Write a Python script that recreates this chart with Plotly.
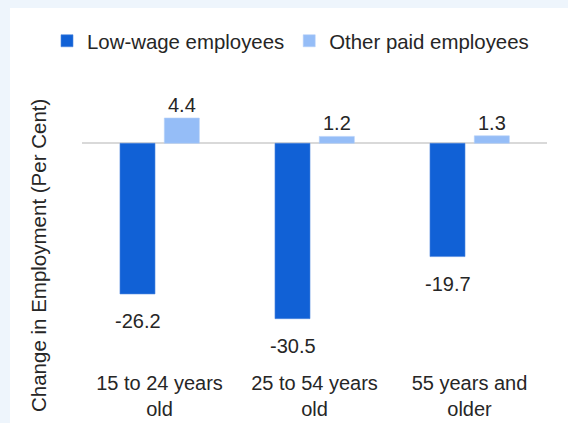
import plotly.graph_objects as go

categories = ["15 to 24 years<br>old", "25 to 54 years<br>old", "55 years and<br>older"]
series_names = ["Low-wage employees", "Other paid employees"]
low_wage = [-26.2, -30.5, -19.7]
other_paid = [4.4, 1.2, 1.3]

DARK = "#1161D6"
LIGHT = "#95BDF7"
TEXT = "#262626"
FONT = "Liberation Sans, Arial, sans-serif"

W, H = 568, 423
ml, mr, mt, mb = 82, 21, 100, 57
pw = W - ml - mr
ph = H - mt - mb

fig = go.Figure()
bar_w = 0.226
fig.add_trace(go.Bar(x=categories, y=low_wage, name=series_names[0],
                     marker=dict(color=DARK, line=dict(color="#4F86DE", width=0.6)),
                     width=bar_w, offset=-0.255))
fig.add_trace(go.Bar(x=categories, y=other_paid, name=series_names[1],
                     marker=dict(color=LIGHT, line=dict(color="#B5D0F9", width=0.6)),
                     width=bar_w, offset=0.031))

annotations = []
for series, shift in ((low_wage, -22), (other_paid, 22)):
    for c, v in zip(categories, series):
        annotations.append(dict(x=c, y=v, xref="x", yref="y", text=f"{v:.1f}",
                                showarrow=False, xshift=shift,
                                yshift=13 if v >= 0 else -27,
                                yanchor="middle", xanchor="center",
                                font=dict(size=20, color=TEXT, family=FONT)))
annotations.append(dict(x=(38 - ml) / pw, y=(H - mb - 256) / ph, xref="paper", yref="paper",
                        text="Change in Employment (Per Cent)", textangle=-90,
                        showarrow=False, xanchor="center", yanchor="middle",
                        font=dict(size=20.5, color=TEXT, family=FONT)))

fig.update_layout(
    width=W, height=H,
    margin=dict(l=ml, r=mr, t=mt, b=mb, pad=0, autoexpand=False),
    paper_bgcolor="#EEF5FC",
    plot_bgcolor="white",
    font=dict(family=FONT, size=20, color=TEXT),
    barmode="group",
    showlegend=True,
    legend=dict(orientation="h", x=(47 - ml) / pw, xanchor="left",
                y=1 + (mt - 41) / ph, yanchor="middle",
                font=dict(size=20.4, color=TEXT, family=FONT),
                bgcolor="rgba(0,0,0,0)", traceorder="normal"),
    xaxis=dict(showgrid=False, showline=False, ticks="", ticklabelstandoff=3,
               automargin=False, tickfont=dict(size=20, color=TEXT)),
    yaxis=dict(range=[-38.73, 7.53], showgrid=False, showticklabels=False, ticks="",
               automargin=False,
               zeroline=True, zerolinecolor="#D9D9D9", zerolinewidth=2, showline=False),
    annotations=annotations,
    shapes=[dict(type="rect", xref="paper", yref="paper",
                 x0=(10 - ml) / pw, x1=1.2, y0=-0.4, y1=(H - mb - 8) / ph,
                 fillcolor="white", line=dict(width=0), layer="below")],
)

fig.write_html("out.html", config={"displayModeBar": False},
               post_script="document.body.style.margin='0px';document.body.style.overflow='hidden';")
